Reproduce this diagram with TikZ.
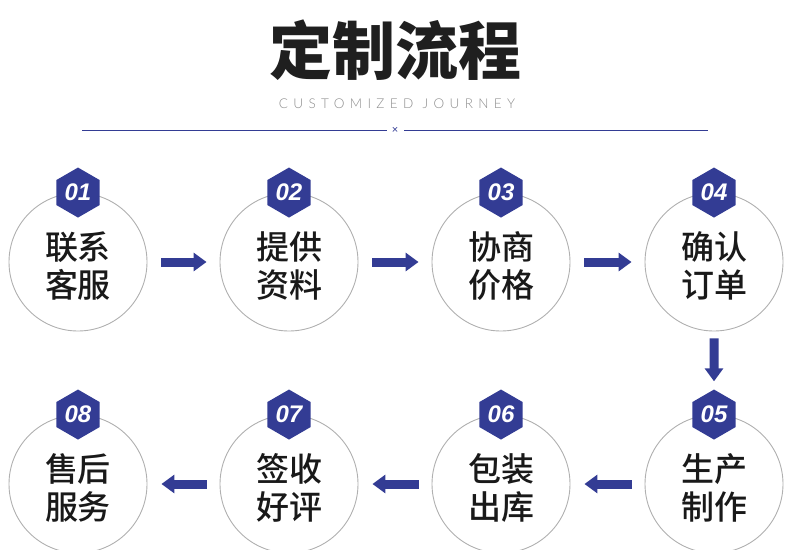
\documentclass[tikz,border=0pt]{standalone}
\usepackage{fontspec}
\setmainfont{Liberation Sans}
\newfontfamily\cjk{Noto Sans CJK SC}
\newfontfamily\cjkm{Noto Sans CJK SC Medium}
\newfontfamily\subfont[LetterSpace=40]{Lato Light}
\usetikzlibrary{arrows.meta,shapes.geometric}
\definecolor{flowblue}{RGB}{51,60,148}
\definecolor{ringgray}{RGB}{176,176,176}
\definecolor{subgray}{RGB}{140,140,140}
\tikzset{
  ring/.style={circle, draw=ringgray, line width=0.9pt, fill=white, minimum size=138pt, inner sep=0pt},
  ringtext/.style={align=center, inner sep=0pt, font=\cjkm\fontsize{33}{38}\selectfont, text=black!90},
  hexbadge/.style={regular polygon, regular polygon sides=6, shape border rotate=30, fill=flowblue,
    minimum size=50pt, inner sep=0pt, text=white, font=\bfseries\itshape\fontsize{24}{24}\selectfont},
  flow/.style={line width=9pt, draw=flowblue, -{Triangle[length=13pt,width=18pt]}}
}
\begin{document}
\begin{tikzpicture}[x=1pt,y=-1pt]
\useasboundingbox (0,0) rectangle (790,549);
\clip (0,0) rectangle (790,549);
% title
\node[font=\cjk\bfseries\fontsize{63}{63}\selectfont, text=black!88] (title) at (395,50) {定制流程};
\node[font=\subfont\fontsize{13.5}{13.5}\selectfont, text=subgray] (sub) at (397,104) {CUSTOMIZED JOURNEY};
\node[font=\fontsize{11}{11}\selectfont, text=flowblue, inner sep=1pt] (x) at (395,130) {×};
\coordinate (l1) at (82,130);
\coordinate (r1) at (708,130);
\draw[flowblue, line width=1pt] (l1) -- ([xshift=-8pt]x.center);
\draw[flowblue, line width=1pt] ([xshift=9pt]x.center) -- (r1);
% row 1
\node[ring] (c1) at (78,262) {};
\node[ring] (c2) at (289,262) {};
\node[ring] (c3) at (501,262) {};
\node[ring] (c4) at (714,262) {};
% row 2
\node[ring] (c8) at (78,484) {};
\node[ring] (c7) at (289,484) {};
\node[ring] (c6) at (501,484) {};
\node[ring] (c5) at (714,484) {};
% texts
\foreach \c/\t in {c1/{联系\\客服},c2/{提供\\资料},c3/{协商\\价格},c4/{确认\\订单},
                   c5/{生产\\制作},c6/{包装\\出库},c7/{签收\\好评},c8/{售后\\服务}}{
  \node[ringtext] (t\c) at ([yshift=-4pt]\c.center) {\t};
}
% badges
\foreach \n/\c in {01/c1,02/c2,03/c3,04/c4,05/c5,06/c6,07/c7,08/c8}{
  \node[hexbadge] (h\n) at (\c.north) {\n};
}
% arrows
\draw[flow, shorten <=14pt, shorten >=13pt] (c1.east) -- (c2.west);
\draw[flow, shorten <=14pt, shorten >=13pt] (c2.east) -- (c3.west);
\draw[flow, shorten <=14pt, shorten >=13pt] (c3.east) -- (c4.west);
\draw[flow, shorten <=7pt, shorten >=8pt] (c4.south) -- (h05.north);
\draw[flow, shorten <=13pt, shorten >=14pt] (c5.west) -- (c6.east);
\draw[flow, shorten <=13pt, shorten >=14pt] (c6.west) -- (c7.east);
\draw[flow, shorten <=13pt, shorten >=14pt] (c7.west) -- (c8.east);
\end{tikzpicture}
\end{document}
